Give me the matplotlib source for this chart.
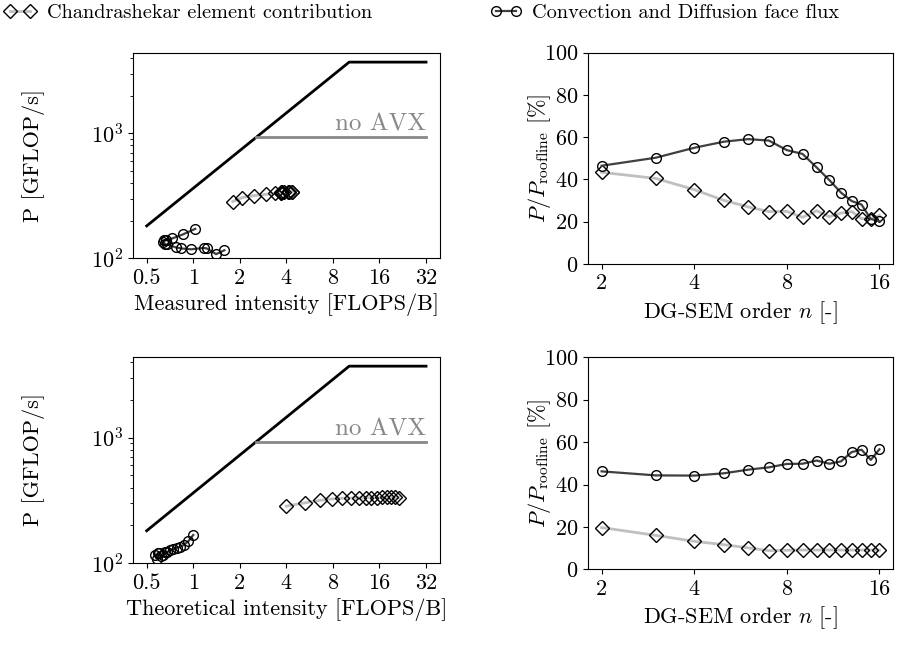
import matplotlib
matplotlib.use("Agg")
import matplotlib.pyplot as plt
import numpy as np
from matplotlib.ticker import FixedLocator, FixedFormatter, NullLocator

plt.rcParams['font.family'] = 'serif'
plt.rcParams['font.serif'] = ['cmr10']
plt.rcParams['mathtext.fontset'] = 'cm'
plt.rcParams['axes.formatter.use_mathtext'] = True
plt.rcParams['font.size'] = 16

# polynomial degree
order = [2, 3, 4, 5, 6, 7, 8, 9, 10, 11, 12, 13, 14, 15, 16]

# roofline (GFLOP/s, FLOPS/B)
peak = 3700
peak_noavx = 925
bandwidth = 363
roof_x = [0.5, 32]

# measured intensity / performance
meas_I_chandra = [1.80, 2.08, 2.48, 2.97, 3.37, 3.70, 3.71, 4.19, 3.68, 4.16, 3.86, 3.77, 4.34, 4.38, 4.07]
meas_P_chandra = [284, 306, 317, 325, 330, 333, 335, 336, 337, 338, 338, 339, 339, 339, 340]
meas_I_flux = [1.03, 0.855, 0.73, 0.667, 0.65, 0.64, 0.66, 0.68, 0.774, 0.834, 0.967, 1.166, 1.222, 1.406, 1.59]
meas_P_flux = [172, 155, 144, 139, 139, 136, 129, 129, 122, 120, 118, 121, 120, 108, 116]

# theoretical intensity / performance
theo_I_chandra = [4.0, 5.3, 6.6, 7.9, 9.2, 10.5, 11.8, 13.0, 14.2, 15.5, 16.7, 17.9, 19.1, 20.2, 21.4]
theo_P_chandra = [285, 303, 317, 325, 329, 330, 331, 332, 333, 333, 334, 334, 334, 334, 333]
theo_I_flux = [1.0, 0.93, 0.87, 0.82, 0.78, 0.74, 0.71, 0.68, 0.66, 0.64, 0.62, 0.60, 0.59, 0.58, 0.57]
theo_P_flux = [168, 150, 140, 135, 133, 129, 128, 123, 123, 116, 115, 120, 121, 109, 117]

# percentage of roofline
meas_pct_chandra = [43.4, 40.5, 35.2, 30.1, 27.0, 24.8, 24.9, 22.1, 25.2, 22.4, 24.1, 24.8, 21.5, 21.3, 23.0]
meas_pct_flux = [46.5, 50.3, 55.0, 57.9, 59.1, 58.4, 53.9, 52.1, 45.7, 39.7, 33.8, 29.8, 28.1, 21.3, 20.3]
theo_pct_chandra = [19.7, 16.0, 13.2, 11.6, 10.1, 8.8, 9.0, 9.1, 9.1, 9.1, 9.1, 9.1, 9.1, 9.1, 9.0]
theo_pct_flux = [46.2, 44.3, 44.2, 45.3, 47.0, 48.1, 49.7, 49.8, 51.3, 49.8, 50.9, 55.3, 56.4, 51.6, 56.6]

W, H = 916, 647
fig = plt.figure(figsize=(W / 100, H / 100), dpi=100)

def box(l, t, r, b):
    return [l / W, 1 - b / H, (r - l) / W, (b - t) / H]

ax_tl = fig.add_axes(box(132.7, 52.7, 440, 258.3))
ax_tr = fig.add_axes(box(587.7, 52.7, 893.3, 264))
ax_bl = fig.add_axes(box(132.7, 356.7, 440, 563.3))
ax_br = fig.add_axes(box(587.7, 357.3, 893.3, 569.3))

chandra_style = dict(color='#c0c0c0', lw=2, marker='D', ms=7, mfc='none', mec='black', mew=1.0)
flux_style = dict(color='#404040', lw=1.6, marker='o', ms=7, mfc='none', mec='black', mew=1.0)

def roofline(ax, xlabel, I_c, P_c, I_f, P_f):
    knee = peak / bandwidth
    knee2 = peak_noavx / bandwidth
    ax.plot([roof_x[0], knee, roof_x[1]], [bandwidth * roof_x[0], peak, peak], color='black', lw=2)
    ax.plot([knee2, roof_x[1]], [peak_noavx, peak_noavx], color='#888888', lw=2)
    ax.text(roof_x[1], peak_noavx * 1.03, 'no AVX', color='#888888', fontsize=18,
            ha='right', va='bottom')
    ax.plot(I_c, P_c, **chandra_style)
    ax.plot(I_f, P_f, **flux_style)
    ax.set_xscale('log', base=2)
    ax.set_yscale('log')
    ax.set_xlim(0.406, 39.4)
    ax.set_ylim(100, 4400)
    xt = [0.5, 1, 2, 4, 8, 16, 32]
    ax.xaxis.set_major_locator(FixedLocator(xt))
    ax.xaxis.set_major_formatter(FixedFormatter(['0.5', '1', '2', '4', '8', '16', '32']))
    ax.xaxis.set_minor_locator(NullLocator())
    ax.set_xlabel(xlabel)
    ax.set_ylabel('P [GFLOP/s]')
    ax.yaxis.set_label_coords(-0.285, 0.5)

def percent(ax, pc, pf):
    ax.plot(order, pc, **chandra_style)
    ax.plot(order, pf, **flux_style)
    ax.set_xscale('log', base=2)
    ax.set_ylim(0, 100)
    ax.xaxis.set_major_locator(FixedLocator([2, 4, 8, 16]))
    ax.xaxis.set_major_formatter(FixedFormatter(['2', '4', '8', '16']))
    ax.xaxis.set_minor_locator(NullLocator())
    ax.set_yticks([0, 20, 40, 60, 80, 100])
    ax.set_xlabel('DG-SEM order $n$ [-]')
    ax.set_ylabel(r'$P/P_{\mathrm{roofline}}$ [%]')
    ax.yaxis.set_label_coords(-0.115, 0.5)

roofline(ax_tl, 'Measured intensity [FLOPS/B]', meas_I_chandra, meas_P_chandra, meas_I_flux, meas_P_flux)
roofline(ax_bl, 'Theoretical intensity [FLOPS/B]', theo_I_chandra, theo_P_chandra, theo_I_flux, theo_P_flux)
percent(ax_tr, meas_pct_chandra, meas_pct_flux)
percent(ax_br, theo_pct_chandra, theo_pct_flux)

h1, = ax_tl.plot([], [], **chandra_style)
h2, = ax_tl.plot([], [], **flux_style)
fig.legend([h1, h2], ['Chandrashekar element contribution', 'Convection and Diffusion face flux'],
           loc='upper left', bbox_to_anchor=(0.0, 1.0), ncol=2, frameon=False, numpoints=2,
           fontsize=14.6, handlelength=1.6, handletextpad=0.5, columnspacing=5.8,
           borderaxespad=0.1, borderpad=0.1)

fig.savefig('out.png', dpi=100)
